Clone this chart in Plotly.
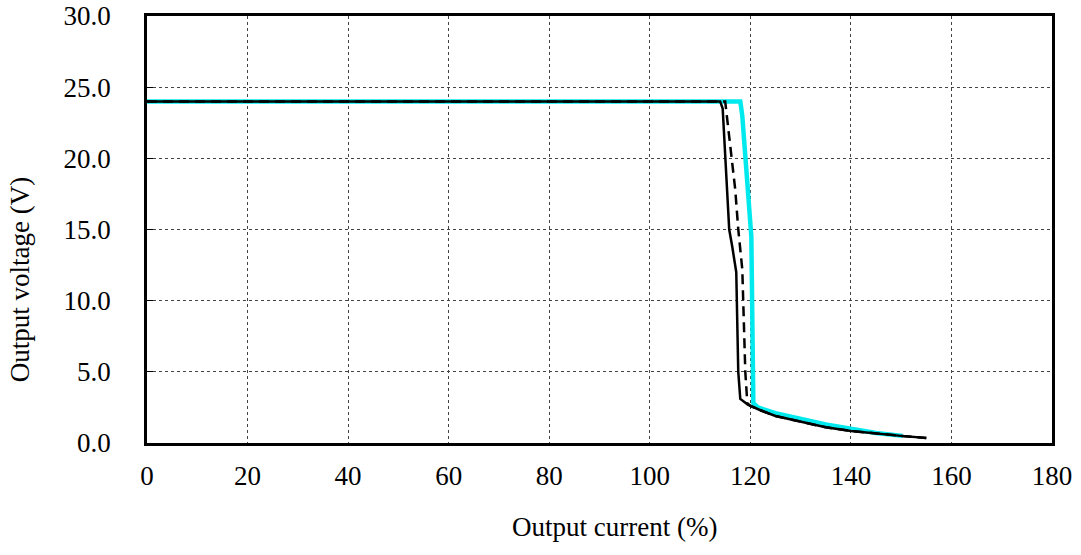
import plotly.graph_objects as go

# Solid black curve
solid_x = [0, 114, 114.5, 115, 115.8, 116.4, 117.2, 117.6, 118, 119.5, 122, 125, 130, 135, 140, 145, 150, 155]
solid_y = [24, 24, 23.5, 20, 15, 13.8, 12, 5, 3.1, 2.7, 2.3, 1.9, 1.5, 1.1, 0.85, 0.65, 0.5, 0.35]

# Dashed black curve
dash_x = [0, 115, 117, 117.6, 118.4, 119, 119.4, 120, 122, 125, 130, 135, 140, 145, 150, 155]
dash_y = [24, 24, 17.8, 15, 12.2, 5, 2.8, 2.6, 2.3, 1.9, 1.5, 1.1, 0.85, 0.65, 0.5, 0.35]

# Cyan curve
cyan_x = [0, 117, 118, 118.4, 120.2, 120.6, 121.5, 125, 130, 135, 140, 145, 150.3]
cyan_y = [24, 24, 24, 23, 14.5, 2.8, 2.5, 2.1, 1.7, 1.3, 1.0, 0.7, 0.5]

x_ticks = [0, 20, 40, 60, 80, 100, 120, 140, 160, 180]
y_ticks = [0, 5, 10, 15, 20, 25, 30]

FONT = "Liberation Serif, Times New Roman, serif"
FS = 27

fig = go.Figure()
fig.add_trace(go.Scatter(x=cyan_x, y=cyan_y, mode="lines",
                         line=dict(color="#00EAEE", width=4.5), showlegend=False))
fig.add_trace(go.Scatter(x=dash_x, y=dash_y, mode="lines",
                         line=dict(color="black", width=2.5, dash="10px,6px"), showlegend=False))
fig.add_trace(go.Scatter(x=solid_x, y=solid_y, mode="lines",
                         line=dict(color="black", width=2.5), showlegend=False))

fig.update_layout(
    width=1081, height=555,
    margin=dict(l=147, r=29, t=16, b=112, autoexpand=False),
    paper_bgcolor="white", plot_bgcolor="white",
    font=dict(family=FONT, size=FS, color="black"),
    annotations=[
        dict(text="Output current (%)", xref="paper", yref="paper",
             x=0.517, y=-0.197, xanchor="center", yanchor="middle",
             showarrow=False, font=dict(size=FS)),
        dict(text="Output voltage (V)", xref="paper", yref="paper",
             x=-0.14, y=0.382, xanchor="center", yanchor="middle",
             textangle=-90, showarrow=False, font=dict(size=FS)),
    ],
)
fig.update_xaxes(
    range=[0, 180], tickvals=x_ticks, ticktext=[str(v) for v in x_ticks],
    showgrid=True, gridcolor="#444444", gridwidth=1, griddash="dot",
    showline=True, linecolor="black", linewidth=2.5, mirror=True,
    ticks="", ticklabelstandoff=7, zeroline=False, automargin=False,
    tickfont=dict(size=FS),
)
fig.update_yaxes(
    range=[0, 30], tickvals=y_ticks, ticktext=[f"{v:.1f}" for v in y_ticks],
    showgrid=True, gridcolor="#444444", gridwidth=1, griddash="dot",
    showline=True, linecolor="black", linewidth=2.5, mirror=True,
    ticks="inside", ticklen=6, tickcolor="black", ticklabelstandoff=28, zeroline=False,
    automargin=False,
    tickfont=dict(size=FS),
)

fig.write_html("out.html")
